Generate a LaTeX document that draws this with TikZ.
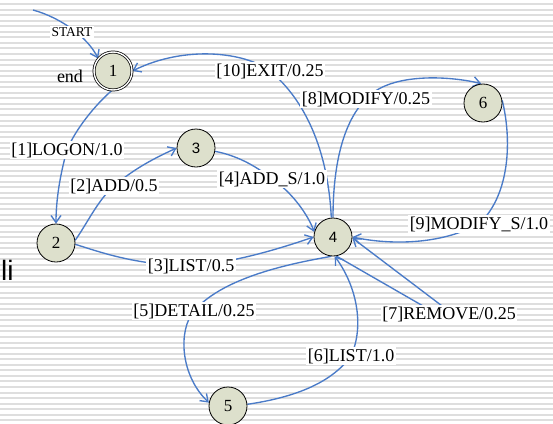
\documentclass[tikz,border=0pt]{standalone}
\usepackage{fontspec}
\setmainfont{Liberation Serif}
\newfontfamily\arialf{Liberation Sans}
\usetikzlibrary{arrows.meta}
\definecolor{edgeblue}{RGB}{74,123,200}
\definecolor{statefill}{RGB}{221,224,204}
\definecolor{stripe}{RGB}{222,222,222}
\pgfdeclarelayer{stripes}
\pgfdeclarelayer{edges}
\pgfsetlayers{stripes,edges,main}

\begin{document}
\begin{tikzpicture}[x=1pt,y=-1pt,
  state/.style={circle, draw=black, line width=0.8pt, fill=statefill,
    minimum size=38pt, inner sep=0pt, font=\fontsize{17}{17}\selectfont},
  sstate/.style={state, font=\arialf\fontsize{15}{15}\selectfont},
  lbl/.style={fill=white, inner sep=1.5pt, anchor=base,
    font=\fontsize{18}{18}\selectfont},
  edge/.style={draw=edgeblue, line width=1.35pt,
    -{Straight Barb[length=7pt,width=10pt]}}]

\useasboundingbox (0,0) rectangle (553,423);

% striped backdrop
\begin{pgfonlayer}{stripes}
  \fill[white] (0,0) rectangle (553,423);
  \foreach \k in {0,...,76}
    \fill[stripe] (0,{3+5.55*\k}) rectangle (553,{5+5.55*\k});
\end{pgfonlayer}

% states
\node[state, double=white, double distance=1.4pt, line width=0.75pt] (n1) at (113,71) {1};
\node[state]  (n2) at (56,243)  {2};
\node[sstate] (n3) at (196,148) {3};
\node[sstate] (n4) at (333,237) {4};
\node[state]  (n5) at (228,406) {5};
\node[state]  (n6) at (483,103) {6};

% texts
\node[lbl, font=\fontsize{13.5}{13.5}\selectfont] (lstart) at (72,36) {START};
\node[anchor=base, inner sep=0pt, font=\fontsize{18}{18}\selectfont] (lend) at (70,82) {end};
\node[anchor=base west, inner sep=0pt, font=\arialf\fontsize{28}{28}\selectfont] (lli) at (1,280) {li};

\node[lbl] (l10) at (270,76)  {[10]EXIT/0.25};
\node[lbl] (l8)  at (366,104) {[8]MODIFY/0.25};
\node[lbl] (l1)  at (67,155)  {[1]LOGON/1.0};
\node[lbl] (l2)  at (114,191) {[2]ADD/0.5};
\node[lbl] (l4)  at (272,184) {[4]ADD\_S/1.0};
\node[lbl] (l3)  at (191,271) {[3]LIST/0.5};
\node[lbl] (l9)  at (479,229) {[9]MODIFY\_S/1.0};
\node[lbl] (l5)  at (194,316) {[5]DETAIL/0.25};
\node[lbl] (l7)  at (449,319) {[7]REMOVE/0.25};
\node[lbl] (l6)  at (351,361) {[6]LIST/1.0};

% transitions
\begin{pgfonlayer}{edges}
  \coordinate (s0) at (33,10);
  \draw[edge] (s0) .. controls (62,18) and (88,38) .. (n1.140);
  \draw[edge] (n4.95) .. controls (328,150) and (305,100) .. (l10.center)
              .. controls (245,52) and (185,45) .. (n1.east);
  \draw[edge] (n4.90) .. controls (333,160) and (345,120) .. (l8.center)
              .. controls (390,72) and (450,76) .. (n6.95);
  \draw[edge] (n6.8) .. controls (512,140) and (510,195) .. (l9.center)
              .. controls (440,245) and (390,245) .. (n4.east);
  \draw[edge] (n1.-93) .. controls (95,105) and (75,130) .. (l1.center)
              .. controls (60,175) and (56,200) .. (n2.north);
  \draw[edge] (n2.8) .. controls (88,222) and (98,200) .. (l2.center)
              .. controls (135,168) and (155,158) .. (n3.west);
  \draw[edge] (n3.-10) .. controls (235,155) and (255,165) .. (l4.center)
              .. controls (292,192) and (308,215) .. (n4.165);
  \draw[edge] (n2.-4) .. controls (100,252) and (135,265) .. (l3.center)
              .. controls (240,262) and (290,245) .. (n4.west);
  \draw[edge] (n4.-95) .. controls (300,262) and (225,275) .. (l5.center)
              .. controls (178,330) and (180,375) .. (n5.170);
  \draw[edge] (n5.5) .. controls (290,398) and (330,385) .. (l6.center)
              .. controls (365,325) and (356,285) .. (n4.-85);
  \draw[edge] (n4.-80) -- ([shift={(-19,-4)}]l7.center)
              -- ([shift={(1,-2)}]l7.center) -- (n4.-3);
\end{pgfonlayer}
\end{tikzpicture}
\end{document}
